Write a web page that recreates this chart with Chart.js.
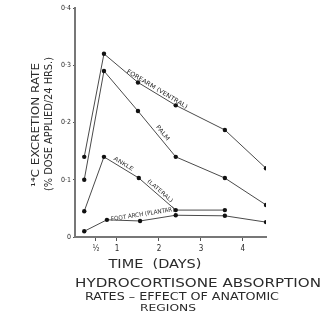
<!DOCTYPE html>
<html>
<head>
<meta charset="utf-8">
<script src="https://cdn.jsdelivr.net/npm/chart.js@4"></script>
<style>
  html, body { margin: 0; padding: 0; background: #fff; }
  #wrap { width: 334px; height: 324px; position: relative; }
</style>
</head>
<body>
<div id="wrap"><canvas id="absorptionChart"></canvas></div>
<script>
// Data (x in days, y in % dose applied / 24 hrs)
const forearmDays = [0.22, 0.69, 1.5, 2.4, 3.57, 4.55];
const forearmRate = [0.14, 0.32, 0.27, 0.23, 0.187, 0.12];
const palmDays = [0.22, 0.69, 1.5, 2.4, 3.57, 4.55];
const palmRate = [0.10, 0.29, 0.22, 0.14, 0.103, 0.056];
const ankleDays = [0.22, 0.69, 1.52, 2.4, 3.57];
const ankleRate = [0.045, 0.14, 0.103, 0.047, 0.047];
const footDays = [0.22, 0.76, 1.55, 2.4, 3.57, 4.55];
const footRate = [0.01, 0.03, 0.028, 0.038, 0.037, 0.026];

const seriesNames = ["FOREARM (VENTRAL)", "PALM", "ANKLE (LATERAL)", "FOOT ARCH (PLANTAR)"];
const xTickValues = [0.5, 1, 2, 3, 4];
const xTickLabels = ["½", "1", "2", "3", "4"];
const yTickValues = [0, 0.1, 0.2, 0.3, 0.4];
const yTickLabels = ["0", "0·1", "0·2", "0·3", "0·4"];

const ink = "#2a2a2a";
const lineInk = "#4a4a4a";
const hand = "'DejaVu Sans Condensed', 'DejaVu Sans', sans-serif";

function pts(xs, ys) {
  return xs.map((x, i) => ({ x: x, y: ys[i] }));
}

function makeSet(name, xs, ys) {
  return {
    label: name,
    data: pts(xs, ys),
    showLine: true,
    borderColor: lineInk,
    borderWidth: 1,
    pointRadius: 2.2,
    pointBackgroundColor: "#111",
    pointBorderColor: "#111",
    pointBorderWidth: 0
  };
}

// text squeezed or stretched to a given width
function fitText(ctx, text, cx, cy, width, size, angle) {
  ctx.save();
  ctx.font = size + "px " + hand;
  ctx.fillStyle = ink;
  ctx.textAlign = "center";
  ctx.textBaseline = "middle";
  ctx.translate(cx, cy);
  ctx.rotate(angle || 0);
  const w = ctx.measureText(text).width;
  ctx.scale(width / w, 1);
  ctx.fillText(text, 0, 0);
  ctx.restore();
}

// labels written along the lines: dataset, segment, position on segment, offset, width
const lineLabels = [
  { ds: 0, seg: 2, t: 0.45, off: -4, w: 70, size: 6 },
  { ds: 1, seg: 2, t: 0.55, off: -5, w: 18, size: 6 },
  { ds: 2, seg: 1, t: 0.5, off: -4, w: 22, size: 5.5 },
  { ds: 2, seg: 2, t: 0.5, off: -4, w: 32, size: 5.5 },
  { ds: 3, seg: 2, t: 0.1, off: -6, w: 64, size: 6 }
];
const lineLabelText = ["FOREARM (VENTRAL)", "PALM", "ANKLE", "(LATERAL)", "FOOT ARCH (PLANTAR)"];

const annotations = {
  id: "annotations",
  afterDatasetsDraw(chart) {
    const ctx = chart.ctx;
    const xs = chart.scales.x, ys = chart.scales.y;
    lineLabels.forEach((l, i) => {
      const d = chart.data.datasets[l.ds].data;
      const a = d[l.seg], b = d[l.seg + 1];
      const x1 = xs.getPixelForValue(a.x), y1 = ys.getPixelForValue(a.y);
      const x2 = xs.getPixelForValue(b.x), y2 = ys.getPixelForValue(b.y);
      const ang = Math.atan2(y2 - y1, x2 - x1);
      const mx = x1 + (x2 - x1) * l.t, my = y1 + (y2 - y1) * l.t;
      const cx = mx + Math.sin(ang) * l.off * -1;
      const cy = my + Math.cos(ang) * l.off;
      fitText(ctx, lineLabelText[i], cx, cy, l.w, l.size, ang);
    });
    // axis titles and caption
    fitText(ctx, "¹⁴C EXCRETION RATE", 36, 125, 124, 10, -Math.PI / 2);
    fitText(ctx, "(% DOSE APPLIED/24 HRS.)", 49, 124, 134, 10, -Math.PI / 2);
    fitText(ctx, "TIME  (DAYS)", 155, 265, 93, 12, 0);
    fitText(ctx, "HYDROCORTISONE ABSORPTION", 198, 284, 246, 12, 0);
    fitText(ctx, "RATES – EFFECT OF ANATOMIC", 182, 297, 194, 10, 0);
    fitText(ctx, "REGIONS", 168, 309, 56, 8, 0);
  }
};

const config = {
  type: "scatter",
  data: {
    datasets: [
      makeSet(seriesNames[0], forearmDays, forearmRate),
      makeSet(seriesNames[1], palmDays, palmRate),
      makeSet(seriesNames[2], ankleDays, ankleRate),
      makeSet(seriesNames[3], footDays, footRate)
    ]
  },
  options: {
    responsive: false,
    animation: false,
    layout: { autoPadding: false, padding: { top: 8, right: 68, left: 0, bottom: 0 } },
    plugins: { legend: { display: false }, tooltip: { enabled: false } },
    scales: {
      x: {
        type: "linear",
        min: 0,
        max: 4.55,
        afterBuildTicks(scale) { scale.ticks = xTickValues.map(v => ({ value: v })); },
        afterFit(scale) { scale.height = 87; },
        border: { display: true, color: "#777", width: 2 },
        grid: { drawOnChartArea: false, drawTicks: true, tickLength: 4, color: "#555" },
        ticks: {
          color: ink,
          padding: 3,
          maxRotation: 0,
          font: { family: hand, size: 8 },
          callback: (v) => xTickLabels[xTickValues.indexOf(v)]
        }
      },
      y: {
        min: 0,
        max: 0.4,
        afterBuildTicks(scale) { scale.ticks = yTickValues.map(v => ({ value: v })); },
        afterFit(scale) { scale.width = 75; },
        border: { display: true, color: "#777", width: 2 },
        grid: { drawOnChartArea: false, drawTicks: true, tickLength: 2, color: "#555" },
        ticks: {
          color: ink,
          padding: 2,
          font: { family: hand, size: 7 },
          callback: (v) => yTickLabels[yTickValues.indexOf(v)]
        }
      }
    }
  },
  plugins: [annotations]
};

window.addEventListener("DOMContentLoaded", () => {
  const canvas = document.getElementById("absorptionChart");
  canvas.width = 334;
  canvas.height = 324;
  new Chart(canvas, config);
});
</script>
</body>
</html>
